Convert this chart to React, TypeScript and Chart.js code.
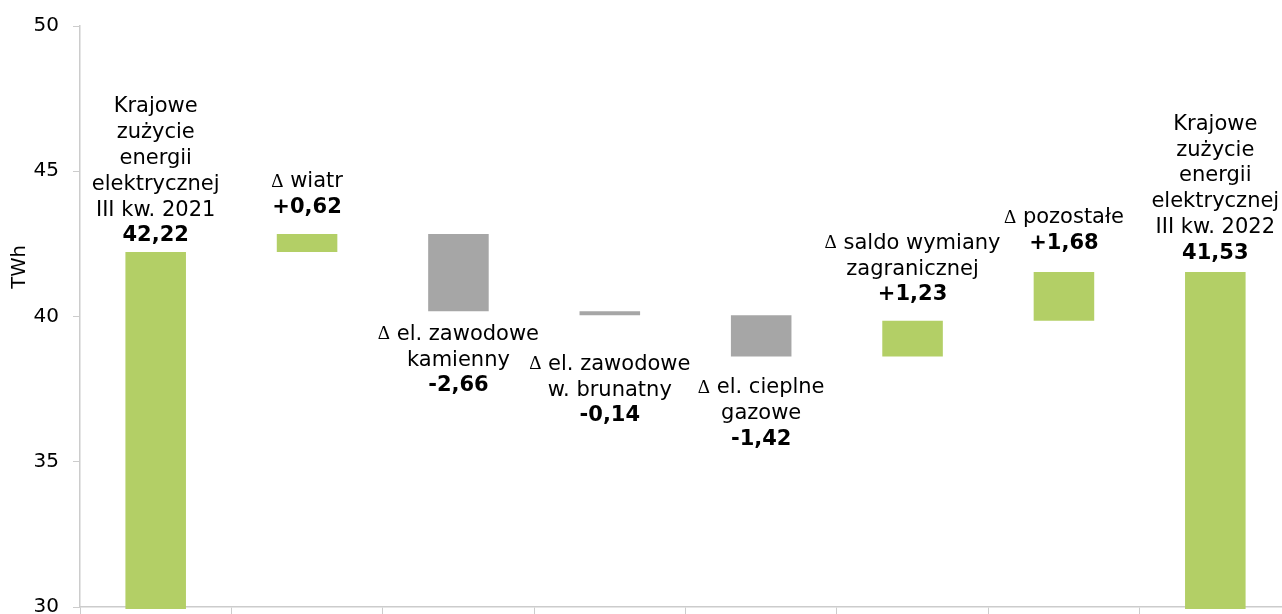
import React, { useEffect, useRef } from "react";
import { Chart, registerables } from "chart.js";

Chart.register(...registerables);

// Category names, one entry per line of the caption
const categoryLines: string[][] = [
  ["Krajowe", "zużycie", "energii", "elektrycznej", "III kw. 2021"],
  ["Δ wiatr"],
  ["Δ el. zawodowe", "kamienny"],
  ["Δ el. zawodowe", "w. brunatny"],
  ["Δ el. cieplne", "gazowe"],
  ["Δ saldo wymiany", "zagranicznej"],
  ["Δ pozostałe"],
  ["Krajowe", "zużycie", "energii", "elektrycznej", "III kw. 2022"],
];

// TWh: totals for the first and last bar, changes in between
const values = [42.22, 0.62, -2.66, -0.14, -1.42, 1.23, 1.68, 41.53];
const isTotal = [true, false, false, false, false, false, false, true];

const yMin = 30;
const yMax = 50;
const yStep = 5;

// caption distance from the bar edge (px)
const captionGap = [16, 26.6, 23, 49, 31, 26, 28.7, 18.7];

const GREEN = "#b3cf66";
const GREY = "#a6a6a6";
const AXIS = "#cccccc";
const FONT = "'DejaVu Sans', Verdana, sans-serif";
const DELTA_FONT = "19px 'Liberation Serif', 'DejaVu Serif', serif";
const LINE_H = 25.8;

function fmt(v: number, total: boolean): string {
  const s = Math.abs(v).toFixed(2).replace(".", ",");
  if (total) return s;
  return (v >= 0 ? "+" : "-") + s;
}

// draws one centred caption line; a leading delta sign uses a serif face
function drawLine(ctx: CanvasRenderingContext2D, text: string, x: number, y: number, font: string) {
  if (text.startsWith("Δ")) {
    const rest = text.slice(1);
    ctx.font = DELTA_FONT;
    const wd = ctx.measureText("Δ").width;
    ctx.font = font;
    const wr = ctx.measureText(rest).width;
    const start = x - (wd + wr) / 2;
    ctx.textAlign = "left";
    ctx.font = DELTA_FONT;
    ctx.fillText("Δ", start, y);
    ctx.font = font;
    ctx.fillText(rest, start + wd, y);
    ctx.textAlign = "center";
  } else {
    ctx.font = font;
    ctx.fillText(text, x, y);
  }
}

export default function App() {
  const ref = useRef<HTMLCanvasElement | null>(null);

  useEffect(() => {
    if (!ref.current) return;

    // floating ranges for the waterfall
    let running = 0;
    const ranges: [number, number][] = values.map((v, i) => {
      if (isTotal[i]) {
        running = v;
        return [0, v];
      }
      const r: [number, number] = [running, running + v];
      running += v;
      return r;
    });
    const colors = values.map((v, i) => (isTotal[i] || v >= 0 ? GREEN : GREY));

    const captions = {
      id: "captions",
      afterDatasetsDraw(chart: any) {
        const ctx = chart.ctx;
        const meta = chart.getDatasetMeta(0);
        ctx.save();
        ctx.fillStyle = "#000";
        ctx.textAlign = "center";
        ctx.textBaseline = "middle";
        meta.data.forEach((el: any, i: number) => {
          const top = Math.min(el.y, el.base);
          const bottom = Math.max(el.y, el.base);
          const lines = [...categoryLines[i], fmt(values[i], isTotal[i])];
          const n = lines.length;
          const up = isTotal[i] || values[i] >= 0;
          lines.forEach((t, k) => {
            const bold = k === n - 1;
            const font = (bold ? "bold " : "") + "21px " + FONT;
            const y = up
              ? top - captionGap[i] - (n - 1 - k) * LINE_H
              : bottom + captionGap[i] + k * LINE_H;
            drawLine(ctx, t, el.x, y, font);
          });
        });
        // axis title
        ctx.translate(20, 267);
        ctx.rotate(-Math.PI / 2);
        ctx.font = "19.5px " + FONT;
        ctx.fillText("TWh", 0, 0);
        ctx.restore();
      },
    };

    const chart = new Chart(ref.current, {
      type: "bar",
      data: {
        labels: categoryLines.map((l) => l.join(" ")),
        datasets: [
          {
            data: ranges as any,
            backgroundColor: colors,
            borderWidth: 0,
            categoryPercentage: 1,
            barPercentage: 0.4,
            clip: { left: false, right: false, top: false, bottom: 2 } as any,
          },
        ],
      },
      options: {
        responsive: false,
        animation: false,
        devicePixelRatio: 1,
        layout: { padding: { top: 24, right: 1, bottom: 0, left: 0 } },
        plugins: {
          legend: { display: false },
          tooltip: { enabled: false },
        },
        scales: {
          x: {
            offset: true,
            grid: {
              offset: true,
              drawOnChartArea: false,
              tickLength: 7,
              color: AXIS,
              tickColor: AXIS,
            },
            border: { color: AXIS, width: 1.5 },
            ticks: { display: false },
            afterFit(scale: any) {
              scale.height = 7;
            },
          },
          y: {
            min: yMin,
            max: yMax,
            grid: {
              drawOnChartArea: false,
              tickLength: 7,
              color: AXIS,
              tickColor: AXIS,
            },
            border: { color: AXIS, width: 1.5 },
            ticks: {
              stepSize: yStep,
              padding: 14,
              color: "#000",
              font: { family: FONT, size: 20 },
            },
            afterFit(scale: any) {
              scale.width = 80;
            },
          },
        },
      },
      plugins: [captions],
    });

    return () => chart.destroy();
  }, []);

  return (
    <div
      style={{
        position: "fixed",
        left: 0,
        top: 0,
        width: 1282,
        height: 614,
        overflow: "hidden",
        background: "#fff",
      }}
    >
      <canvas ref={ref} width={1292} height={633} style={{ display: "block" }} />
    </div>
  );
}
